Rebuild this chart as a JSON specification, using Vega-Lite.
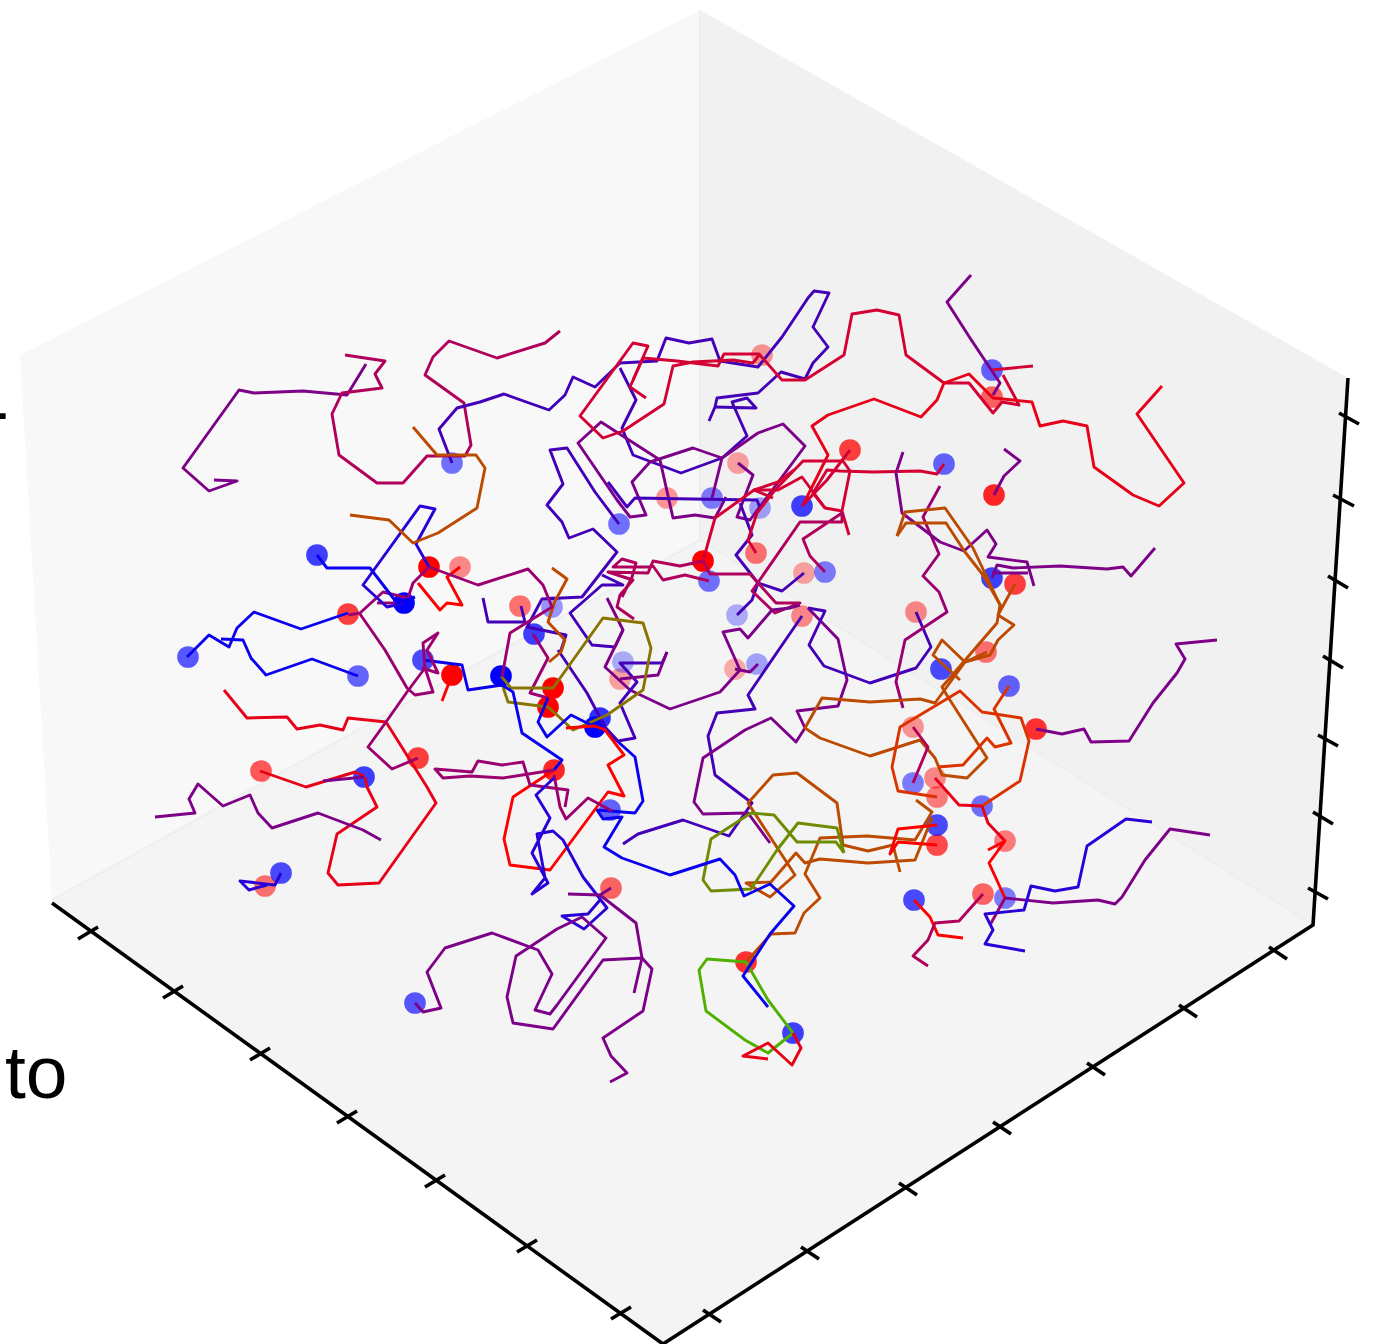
{"$schema":"https://vega.github.io/schema/vega-lite/v6.json","width":1378,"height":1344,"padding":0,"autosize":"none","background":"white","config":{"view":{"stroke":null}},
"datasets":{
"panes":[{"pane":"left","x":20,"y":355,"y2":355},{"pane":"left","x":52,"y":339,"y2":900},{"pane":"left","x":700,"y":10,"y2":540},
{"pane":"right","x":700,"y":10,"y2":540},{"pane":"right","x":1313,"y":358,"y2":925},{"pane":"right","x":1348,"y":378,"y2":378},
{"pane":"floor","x":52,"y":900,"y2":900},{"pane":"floor","x":663,"y":561,"y2":1344},{"pane":"floor","x":700,"y":540,"y2":1320},{"pane":"floor","x":1313,"y":925,"y2":925}],
"seams":[{"id":"s1","x":700,"y":10},{"id":"s1","x":700,"y":540},{"id":"s2","x":52,"y":900},{"id":"s2","x":700,"y":540},{"id":"s3","x":700,"y":540},{"id":"s3","x":1313,"y":925}],
"frame":[{"id":"a1","x":52,"y":903},{"id":"a1","x":663,"y":1344},{"id":"a1","x":1313,"y":925},{"id":"a1","x":1348,"y":378},
{"id":"l1","x":78,"y":939},{"id":"l1","x":98,"y":927},{"id":"l2","x":163,"y":998},{"id":"l2","x":183,"y":986},{"id":"l3","x":250,"y":1060},{"id":"l3","x":270,"y":1048},{"id":"l4","x":337,"y":1123},{"id":"l4","x":357,"y":1111},{"id":"l5","x":425,"y":1187},{"id":"l5","x":445,"y":1175},{"id":"l6","x":517,"y":1252},{"id":"l6","x":537,"y":1240},{"id":"l7","x":611,"y":1319},{"id":"l7","x":631,"y":1307},
{"id":"b1","x":703,"y":1310},{"id":"b1","x":721,"y":1322},{"id":"b2","x":801,"y":1247},{"id":"b2","x":819,"y":1259},{"id":"b3","x":899,"y":1183},{"id":"b3","x":917,"y":1195},{"id":"b4","x":993,"y":1122},{"id":"b4","x":1011,"y":1134},{"id":"b5","x":1087,"y":1063},{"id":"b5","x":1105,"y":1075},{"id":"b6","x":1179,"y":1005},{"id":"b6","x":1197,"y":1017},{"id":"b7","x":1269,"y":947},{"id":"b7","x":1287,"y":959},
{"id":"r1","x":1339,"y":413},{"id":"r1","x":1359,"y":424},{"id":"r2","x":1333,"y":495},{"id":"r2","x":1354,"y":506},{"id":"r3","x":1328,"y":576},{"id":"r3","x":1348,"y":588},{"id":"r4","x":1323,"y":656},{"id":"r4","x":1343,"y":668},{"id":"r5","x":1318,"y":735},{"id":"r5","x":1338,"y":746},{"id":"r6","x":1313,"y":812},{"id":"r6","x":1333,"y":824},{"id":"r7","x":1308,"y":888},{"id":"r7","x":1328,"y":899}],
"markers":[
{"side":"red","fade":1,"x":429,"y":567},{"side":"red","fade":0.45,"x":460,"y":567},{"side":"red","fade":0.75,"x":348,"y":614},{"side":"red","fade":1,"x":452,"y":675},{"side":"red","fade":0.75,"x":418,"y":758},{"side":"red","fade":0.65,"x":261,"y":771},{"side":"red","fade":0.55,"x":265,"y":886},{"side":"red","fade":0.55,"x":520,"y":606},{"side":"red","fade":1,"x":553,"y":688},{"side":"red","fade":1,"x":548,"y":707},{"side":"red","fade":0.85,"x":554,"y":770},{"side":"red","fade":0.6,"x":611,"y":888},{"side":"red","fade":1,"x":703,"y":561},{"side":"red","fade":0.4,"x":667,"y":498},{"side":"red","fade":0.35,"x":738,"y":463},{"side":"red","fade":0.4,"x":762,"y":355},{"side":"red","fade":0.75,"x":850,"y":450},{"side":"red","fade":0.55,"x":756,"y":553},{"side":"red","fade":0.35,"x":804,"y":573},{"side":"red","fade":0.45,"x":802,"y":616},{"side":"red","fade":0.3,"x":735,"y":669},{"side":"red","fade":0.35,"x":620,"y":679},{"side":"red","fade":0.45,"x":916,"y":612},{"side":"red","fade":0.6,"x":992,"y":397},{"side":"red","fade":0.85,"x":994,"y":495},{"side":"red","fade":0.75,"x":1015,"y":584},{"side":"red","fade":0.55,"x":986,"y":652},{"side":"red","fade":0.8,"x":1036,"y":729},{"side":"red","fade":0.4,"x":913,"y":727},{"side":"red","fade":0.45,"x":935,"y":778},{"side":"red","fade":0.5,"x":937,"y":797},{"side":"red","fade":0.7,"x":937,"y":845},{"side":"red","fade":0.5,"x":1005,"y":841},{"side":"red","fade":0.6,"x":983,"y":894},{"side":"red","fade":0.8,"x":746,"y":962},
{"side":"blue","fade":0.55,"x":452,"y":463},{"side":"blue","fade":0.75,"x":317,"y":555},{"side":"blue","fade":1,"x":404,"y":603},{"side":"blue","fade":0.65,"x":188,"y":657},{"side":"blue","fade":0.6,"x":358,"y":676},{"side":"blue","fade":0.7,"x":423,"y":660},{"side":"blue","fade":0.75,"x":534,"y":634},{"side":"blue","fade":0.4,"x":552,"y":607},{"side":"blue","fade":1,"x":501,"y":676},{"side":"blue","fade":0.8,"x":600,"y":718},{"side":"blue","fade":1,"x":595,"y":727},{"side":"blue","fade":0.75,"x":364,"y":777},{"side":"blue","fade":0.7,"x":281,"y":873},{"side":"blue","fade":0.6,"x":610,"y":810},{"side":"blue","fade":0.65,"x":415,"y":1003},{"side":"blue","fade":0.55,"x":619,"y":524},{"side":"blue","fade":0.5,"x":712,"y":498},{"side":"blue","fade":0.35,"x":760,"y":508},{"side":"blue","fade":0.75,"x":802,"y":506},{"side":"blue","fade":0.55,"x":709,"y":581},{"side":"blue","fade":0.3,"x":737,"y":615},{"side":"blue","fade":0.5,"x":825,"y":572},{"side":"blue","fade":0.35,"x":757,"y":664},{"side":"blue","fade":0.3,"x":623,"y":662},{"side":"blue","fade":0.6,"x":992,"y":370},{"side":"blue","fade":0.6,"x":944,"y":464},{"side":"blue","fade":0.75,"x":992,"y":578},{"side":"blue","fade":0.7,"x":941,"y":669},{"side":"blue","fade":0.6,"x":1009,"y":686},{"side":"blue","fade":0.5,"x":913,"y":783},{"side":"blue","fade":0.55,"x":982,"y":806},{"side":"blue","fade":0.7,"x":937,"y":825},{"side":"blue","fade":0.7,"x":914,"y":900},{"side":"blue","fade":0.5,"x":1005,"y":898},{"side":"blue","fade":0.75,"x":793,"y":1033}],
"words":[{"word":"to","x":5,"y":1098},{"word":"-","x":-16,"y":436}],
"paths":[
{"id":"1","hue":"purple","x":366,"y":364},{"id":"1","hue":"purple","x":347,"y":395},{"id":"1","hue":"purple","x":303,"y":391},{"id":"1","hue":"purple","x":254,"y":393},{"id":"1","hue":"purple","x":239,"y":390},{"id":"1","hue":"purple","x":183,"y":468},{"id":"1","hue":"purple","x":209,"y":491},{"id":"1","hue":"purple","x":237,"y":481},{"id":"1","hue":"purple","x":214,"y":480},
{"id":"2","hue":"rose","x":345,"y":355},{"id":"2","hue":"rose","x":385,"y":361},{"id":"2","hue":"rose","x":375,"y":374},{"id":"2","hue":"rose","x":382,"y":388},{"id":"2","hue":"rose","x":342,"y":393},{"id":"2","hue":"rose","x":332,"y":414},{"id":"2","hue":"rose","x":339,"y":455},{"id":"2","hue":"rose","x":377,"y":483},{"id":"2","hue":"rose","x":403,"y":483},{"id":"2","hue":"rose","x":427,"y":456},{"id":"2","hue":"rose","x":465,"y":456},{"id":"2","hue":"rose","x":471,"y":445},{"id":"2","hue":"rose","x":464,"y":403},{"id":"2","hue":"rose","x":425,"y":375},{"id":"2","hue":"rose","x":433,"y":357},{"id":"2","hue":"rose","x":449,"y":341},{"id":"2","hue":"rose","x":497,"y":358},{"id":"2","hue":"rose","x":545,"y":343},{"id":"2","hue":"rose","x":560,"y":331},
{"id":"3","hue":"indigo","x":452,"y":463},{"id":"3","hue":"indigo","x":439,"y":429},{"id":"3","hue":"indigo","x":457,"y":408},{"id":"3","hue":"indigo","x":480,"y":402},{"id":"3","hue":"indigo","x":504,"y":394},{"id":"3","hue":"indigo","x":549,"y":410},{"id":"3","hue":"indigo","x":565,"y":395},{"id":"3","hue":"indigo","x":573,"y":377},{"id":"3","hue":"indigo","x":595,"y":387},{"id":"3","hue":"indigo","x":620,"y":363},{"id":"3","hue":"indigo","x":657,"y":361},{"id":"3","hue":"indigo","x":666,"y":338},{"id":"3","hue":"indigo","x":689,"y":343},{"id":"3","hue":"indigo","x":712,"y":339},{"id":"3","hue":"indigo","x":720,"y":361},{"id":"3","hue":"indigo","x":758,"y":367},{"id":"3","hue":"indigo","x":782,"y":337},{"id":"3","hue":"indigo","x":808,"y":298},{"id":"3","hue":"indigo","x":814,"y":291},{"id":"3","hue":"indigo","x":829,"y":293},{"id":"3","hue":"indigo","x":813,"y":327},{"id":"3","hue":"indigo","x":828,"y":347},{"id":"3","hue":"indigo","x":813,"y":363},{"id":"3","hue":"indigo","x":805,"y":379},{"id":"3","hue":"indigo","x":781,"y":372},{"id":"3","hue":"indigo","x":758,"y":393},{"id":"3","hue":"indigo","x":717,"y":398},{"id":"3","hue":"indigo","x":715,"y":407},{"id":"3","hue":"indigo","x":709,"y":421},
{"id":"5","hue":"indigo","x":715,"y":407},{"id":"5","hue":"indigo","x":756,"y":408},{"id":"5","hue":"indigo","x":747,"y":398},{"id":"5","hue":"indigo","x":732,"y":402},{"id":"5","hue":"indigo","x":747,"y":436},{"id":"5","hue":"indigo","x":722,"y":458},{"id":"5","hue":"indigo","x":681,"y":473},{"id":"5","hue":"indigo","x":633,"y":455},{"id":"5","hue":"indigo","x":622,"y":428},{"id":"5","hue":"indigo","x":636,"y":400},{"id":"5","hue":"indigo","x":620,"y":368},
{"id":"4","hue":"indigo","x":619,"y":524},{"id":"4","hue":"indigo","x":595,"y":492},{"id":"4","hue":"indigo","x":567,"y":448},{"id":"4","hue":"indigo","x":550,"y":450},{"id":"4","hue":"indigo","x":563,"y":484},{"id":"4","hue":"indigo","x":547,"y":505},{"id":"4","hue":"indigo","x":562,"y":522},{"id":"4","hue":"indigo","x":569,"y":538},{"id":"4","hue":"indigo","x":593,"y":529},{"id":"4","hue":"indigo","x":617,"y":552},{"id":"4","hue":"indigo","x":582,"y":597},{"id":"4","hue":"indigo","x":542,"y":599},{"id":"4","hue":"indigo","x":535,"y":612},{"id":"4","hue":"indigo","x":527,"y":627},{"id":"4","hue":"indigo","x":566,"y":635},{"id":"4","hue":"indigo","x":561,"y":650},
{"id":"4b","hue":"indigo","x":602,"y":575},{"id":"4b","hue":"indigo","x":623,"y":585},{"id":"4b","hue":"indigo","x":602,"y":585},{"id":"4b","hue":"indigo","x":585,"y":600},{"id":"4b","hue":"indigo","x":570,"y":613},{"id":"4b","hue":"indigo","x":592,"y":645},{"id":"4b","hue":"indigo","x":615,"y":647},{"id":"4b","hue":"indigo","x":623,"y":630},
{"id":"6","hue":"purple","x":712,"y":498},{"id":"6","hue":"purple","x":722,"y":458},{"id":"6","hue":"purple","x":693,"y":448},{"id":"6","hue":"purple","x":650,"y":462},{"id":"6","hue":"purple","x":632,"y":482},{"id":"6","hue":"purple","x":646,"y":515},{"id":"6","hue":"purple","x":630,"y":517},{"id":"6","hue":"purple","x":617,"y":500},{"id":"6","hue":"purple","x":578,"y":443},{"id":"6","hue":"purple","x":601,"y":422},{"id":"6","hue":"purple","x":660,"y":460},{"id":"6","hue":"purple","x":673,"y":518},{"id":"6","hue":"purple","x":695,"y":515},{"id":"6","hue":"purple","x":715,"y":518},{"id":"6","hue":"purple","x":726,"y":497},
{"id":"6b","hue":"purple","x":738,"y":463},{"id":"6b","hue":"purple","x":753,"y":475},{"id":"6b","hue":"purple","x":737,"y":517},{"id":"6b","hue":"purple","x":750,"y":520},{"id":"6b","hue":"purple","x":805,"y":446},{"id":"6b","hue":"purple","x":783,"y":424},{"id":"6b","hue":"purple","x":758,"y":433},{"id":"6b","hue":"purple","x":722,"y":458},
{"id":"7","hue":"indigo","x":760,"y":508},{"id":"7","hue":"indigo","x":757,"y":500},{"id":"7","hue":"indigo","x":693,"y":499},{"id":"7","hue":"indigo","x":635,"y":498},{"id":"7","hue":"indigo","x":627,"y":507},{"id":"7","hue":"indigo","x":608,"y":482},
{"id":"8a","hue":"indigo","x":740,"y":503},{"id":"8a","hue":"indigo","x":752,"y":535},{"id":"8a","hue":"indigo","x":736,"y":555},{"id":"8a","hue":"indigo","x":758,"y":583},{"id":"8a","hue":"indigo","x":782,"y":591},{"id":"8a","hue":"indigo","x":804,"y":573},
{"id":"8b","hue":"indigo","x":737,"y":615},{"id":"8b","hue":"indigo","x":752,"y":600},{"id":"8b","hue":"indigo","x":758,"y":583},
{"id":"A","hue":"crimson","x":646,"y":398},{"id":"A","hue":"crimson","x":630,"y":387},{"id":"A","hue":"crimson","x":643,"y":358},{"id":"A","hue":"crimson","x":677,"y":361},{"id":"A","hue":"crimson","x":718,"y":366},{"id":"A","hue":"crimson","x":724,"y":354},{"id":"A","hue":"crimson","x":759,"y":354},{"id":"A","hue":"crimson","x":782,"y":380},{"id":"A","hue":"crimson","x":805,"y":380},{"id":"A","hue":"crimson","x":844,"y":355},{"id":"A","hue":"crimson","x":852,"y":314},{"id":"A","hue":"crimson","x":877,"y":310},{"id":"A","hue":"crimson","x":899,"y":315},{"id":"A","hue":"crimson","x":906,"y":355},{"id":"A","hue":"crimson","x":944,"y":383},{"id":"A","hue":"crimson","x":969,"y":383},{"id":"A","hue":"crimson","x":993,"y":413},{"id":"A","hue":"crimson","x":1002,"y":402},{"id":"A","hue":"crimson","x":1019,"y":405},{"id":"A","hue":"crimson","x":1003,"y":375},
{"id":"A2","hue":"crimson","x":992,"y":370},{"id":"A2","hue":"crimson","x":1033,"y":366},
{"id":"B","hue":"crimson","x":633,"y":380},{"id":"B","hue":"crimson","x":648,"y":346},{"id":"B","hue":"crimson","x":633,"y":343},{"id":"B","hue":"crimson","x":580,"y":416},{"id":"B","hue":"crimson","x":603,"y":438},{"id":"B","hue":"crimson","x":623,"y":431},{"id":"B","hue":"crimson","x":664,"y":404},{"id":"B","hue":"crimson","x":673,"y":366},{"id":"B","hue":"crimson","x":693,"y":362},{"id":"B","hue":"crimson","x":733,"y":360},{"id":"B","hue":"crimson","x":753,"y":363},{"id":"B","hue":"crimson","x":760,"y":354},
{"id":"R1","hue":"scarlet","x":1162,"y":386},{"id":"R1","hue":"scarlet","x":1137,"y":414},{"id":"R1","hue":"scarlet","x":1184,"y":483},{"id":"R1","hue":"scarlet","x":1159,"y":506},{"id":"R1","hue":"scarlet","x":1133,"y":495},{"id":"R1","hue":"scarlet","x":1094,"y":467},{"id":"R1","hue":"scarlet","x":1087,"y":426},{"id":"R1","hue":"scarlet","x":1063,"y":421},{"id":"R1","hue":"scarlet","x":1040,"y":426},{"id":"R1","hue":"scarlet","x":1032,"y":402},{"id":"R1","hue":"scarlet","x":993,"y":398},{"id":"R1","hue":"scarlet","x":969,"y":374},{"id":"R1","hue":"scarlet","x":944,"y":383},{"id":"R1","hue":"scarlet","x":937,"y":400},{"id":"R1","hue":"scarlet","x":921,"y":417},{"id":"R1","hue":"scarlet","x":874,"y":399},{"id":"R1","hue":"scarlet","x":828,"y":415},{"id":"R1","hue":"scarlet","x":812,"y":426},{"id":"R1","hue":"scarlet","x":828,"y":455},{"id":"R1","hue":"scarlet","x":803,"y":505},
{"id":"P1","hue":"purple","x":971,"y":275},{"id":"P1","hue":"purple","x":947,"y":302},{"id":"P1","hue":"purple","x":970,"y":338},{"id":"P1","hue":"purple","x":1000,"y":383},{"id":"P1","hue":"purple","x":993,"y":395},
{"id":"C1","hue":"crimson","x":850,"y":450},{"id":"C1","hue":"crimson","x":827,"y":480},{"id":"C1","hue":"crimson","x":802,"y":506},
{"id":"C2","hue":"crimson","x":756,"y":553},{"id":"C2","hue":"crimson","x":748,"y":540},{"id":"C2","hue":"crimson","x":757,"y":513},{"id":"C2","hue":"crimson","x":775,"y":490},{"id":"C2","hue":"crimson","x":803,"y":461},{"id":"C2","hue":"crimson","x":843,"y":461},{"id":"C2","hue":"crimson","x":850,"y":471},{"id":"C2","hue":"crimson","x":842,"y":511},{"id":"C2","hue":"crimson","x":849,"y":535},
{"id":"C3","hue":"crimson","x":944,"y":464},{"id":"C3","hue":"crimson","x":937,"y":474},{"id":"C3","hue":"crimson","x":920,"y":471},{"id":"C3","hue":"crimson","x":873,"y":472},{"id":"C3","hue":"crimson","x":840,"y":471},{"id":"C3","hue":"crimson","x":827,"y":470},{"id":"C3","hue":"crimson","x":813,"y":493},{"id":"C3","hue":"crimson","x":825,"y":508},{"id":"C3","hue":"crimson","x":842,"y":511},
{"id":"C4","hue":"crimson","x":703,"y":561},{"id":"C4","hue":"crimson","x":715,"y":518},{"id":"C4","hue":"crimson","x":754,"y":490},{"id":"C4","hue":"crimson","x":778,"y":490},{"id":"C4","hue":"crimson","x":802,"y":477},{"id":"C4","hue":"crimson","x":825,"y":508},
{"id":"C4b","hue":"crimson","x":754,"y":490},{"id":"C4b","hue":"crimson","x":778,"y":482},{"id":"C4b","hue":"crimson","x":794,"y":470},
{"id":"C4c","hue":"crimson","x":754,"y":490},{"id":"C4c","hue":"crimson","x":773,"y":498},
{"id":"C5","hue":"rose","x":825,"y":572},{"id":"C5","hue":"rose","x":810,"y":556},{"id":"C5","hue":"rose","x":803,"y":539},{"id":"C5","hue":"rose","x":842,"y":513},{"id":"C5","hue":"rose","x":842,"y":522},{"id":"C5","hue":"rose","x":800,"y":522},{"id":"C5","hue":"rose","x":752,"y":591},{"id":"C5","hue":"rose","x":775,"y":613},{"id":"C5","hue":"rose","x":800,"y":603},{"id":"C5","hue":"rose","x":776,"y":603},{"id":"C5","hue":"rose","x":750,"y":574},{"id":"C5","hue":"rose","x":710,"y":574},{"id":"C5","hue":"rose","x":703,"y":561},
{"id":"D1","hue":"rose","x":709,"y":581},{"id":"D1","hue":"rose","x":685,"y":575},{"id":"D1","hue":"rose","x":663,"y":580},{"id":"D1","hue":"rose","x":653,"y":566},{"id":"D1","hue":"rose","x":650,"y":567},{"id":"D1","hue":"rose","x":613,"y":567},{"id":"D1","hue":"rose","x":622,"y":559},{"id":"D1","hue":"rose","x":636,"y":563},{"id":"D1","hue":"rose","x":632,"y":577},{"id":"D1","hue":"rose","x":622,"y":597},
{"id":"D2","hue":"rose","x":703,"y":561},{"id":"D2","hue":"rose","x":680,"y":566},{"id":"D2","hue":"rose","x":653,"y":561},{"id":"D2","hue":"rose","x":648,"y":573},{"id":"D2","hue":"rose","x":608,"y":572},{"id":"D2","hue":"rose","x":633,"y":580},{"id":"D2","hue":"rose","x":620,"y":595},{"id":"D2","hue":"rose","x":617,"y":607},{"id":"D2","hue":"rose","x":634,"y":619},
{"id":"E","hue":"purple","x":607,"y":598},{"id":"E","hue":"purple","x":623,"y":630},{"id":"E","hue":"purple","x":605,"y":667},{"id":"E","hue":"purple","x":630,"y":690},{"id":"E","hue":"purple","x":670,"y":709},{"id":"E","hue":"purple","x":720,"y":692},{"id":"E","hue":"purple","x":740,"y":670},{"id":"E","hue":"purple","x":723,"y":632},{"id":"E","hue":"purple","x":740,"y":629},{"id":"E","hue":"purple","x":748,"y":638},{"id":"E","hue":"purple","x":772,"y":610},{"id":"E","hue":"purple","x":790,"y":608},{"id":"E","hue":"purple","x":800,"y":605},
{"id":"E2","hue":"purple","x":735,"y":669},{"id":"E2","hue":"purple","x":750,"y":672},{"id":"E2","hue":"purple","x":758,"y":664},
{"id":"F","hue":"indigo","x":802,"y":616},{"id":"F","hue":"indigo","x":780,"y":648},{"id":"F","hue":"indigo","x":748,"y":695},{"id":"F","hue":"indigo","x":755,"y":709},{"id":"F","hue":"indigo","x":717,"y":713},{"id":"F","hue":"indigo","x":708,"y":736},{"id":"F","hue":"indigo","x":715,"y":775},{"id":"F","hue":"indigo","x":752,"y":803},{"id":"F","hue":"indigo","x":729,"y":836},{"id":"F","hue":"indigo","x":683,"y":820},{"id":"F","hue":"indigo","x":638,"y":834},{"id":"F","hue":"indigo","x":623,"y":844},
{"id":"G0","hue":"purple","x":808,"y":608},{"id":"G0","hue":"purple","x":838,"y":639},{"id":"G0","hue":"purple","x":847,"y":680},{"id":"G0","hue":"purple","x":838,"y":706},{"id":"G0","hue":"purple","x":797,"y":711},{"id":"G0","hue":"purple","x":805,"y":728},{"id":"G0","hue":"purple","x":796,"y":742},{"id":"G0","hue":"purple","x":771,"y":718},{"id":"G0","hue":"purple","x":745,"y":730},{"id":"G0","hue":"purple","x":703,"y":758},{"id":"G0","hue":"purple","x":694,"y":802},{"id":"G0","hue":"purple","x":703,"y":814},{"id":"G0","hue":"purple","x":748,"y":813},{"id":"G0","hue":"purple","x":770,"y":843},
{"id":"G","hue":"indigo","x":808,"y":608},{"id":"G","hue":"indigo","x":825,"y":611},{"id":"G","hue":"indigo","x":809,"y":645},{"id":"G","hue":"indigo","x":824,"y":666},{"id":"G","hue":"indigo","x":870,"y":683},{"id":"G","hue":"indigo","x":916,"y":668},{"id":"G","hue":"indigo","x":931,"y":647},{"id":"G","hue":"indigo","x":916,"y":612},
{"id":"H","hue":"plum","x":940,"y":486},{"id":"H","hue":"plum","x":923,"y":517},{"id":"H","hue":"plum","x":939,"y":554},{"id":"H","hue":"plum","x":923,"y":576},{"id":"H","hue":"plum","x":939,"y":592},{"id":"H","hue":"plum","x":947,"y":612},{"id":"H","hue":"plum","x":905,"y":640},{"id":"H","hue":"plum","x":896,"y":682},{"id":"H","hue":"plum","x":903,"y":708},
{"id":"I","hue":"purple","x":903,"y":452},{"id":"I","hue":"purple","x":896,"y":473},{"id":"I","hue":"purple","x":902,"y":513},{"id":"I","hue":"purple","x":940,"y":542},{"id":"I","hue":"purple","x":964,"y":551},{"id":"I","hue":"purple","x":987,"y":530},{"id":"I","hue":"purple","x":996,"y":544},{"id":"I","hue":"purple","x":988,"y":557},{"id":"I","hue":"purple","x":1027,"y":562},{"id":"I","hue":"purple","x":1034,"y":586},
{"id":"J","hue":"purple","x":1155,"y":548},{"id":"J","hue":"purple","x":1131,"y":576},{"id":"J","hue":"purple","x":1123,"y":567},{"id":"J","hue":"purple","x":1107,"y":569},{"id":"J","hue":"purple","x":1060,"y":566},{"id":"J","hue":"purple","x":1013,"y":568},{"id":"J","hue":"purple","x":997,"y":565},{"id":"J","hue":"purple","x":992,"y":578},
{"id":"J2","hue":"purple","x":992,"y":573},{"id":"J2","hue":"purple","x":1028,"y":573},
{"id":"J3","hue":"purple","x":994,"y":495},{"id":"J3","hue":"purple","x":1004,"y":476},{"id":"J3","hue":"purple","x":1020,"y":461},{"id":"J3","hue":"purple","x":1004,"y":449},
{"id":"K1","hue":"brown","x":897,"y":536},{"id":"K1","hue":"brown","x":905,"y":512},{"id":"K1","hue":"brown","x":945,"y":508},{"id":"K1","hue":"brown","x":973,"y":548},{"id":"K1","hue":"brown","x":1000,"y":605},{"id":"K1","hue":"brown","x":997,"y":623},{"id":"K1","hue":"brown","x":942,"y":687},{"id":"K1","hue":"brown","x":948,"y":697},{"id":"K1","hue":"brown","x":987,"y":758},{"id":"K1","hue":"brown","x":967,"y":778},{"id":"K1","hue":"brown","x":942,"y":775},{"id":"K1","hue":"brown","x":935,"y":758},{"id":"K1","hue":"brown","x":920,"y":740},{"id":"K1","hue":"brown","x":870,"y":756},{"id":"K1","hue":"brown","x":820,"y":738},{"id":"K1","hue":"brown","x":805,"y":728},{"id":"K1","hue":"brown","x":822,"y":698},{"id":"K1","hue":"brown","x":870,"y":702},{"id":"K1","hue":"brown","x":920,"y":699},{"id":"K1","hue":"brown","x":935,"y":703},{"id":"K1","hue":"brown","x":965,"y":662},{"id":"K1","hue":"brown","x":987,"y":652},
{"id":"K2","hue":"brown","x":897,"y":536},{"id":"K2","hue":"brown","x":906,"y":523},{"id":"K2","hue":"brown","x":946,"y":523},{"id":"K2","hue":"brown","x":965,"y":552},{"id":"K2","hue":"brown","x":983,"y":575},{"id":"K2","hue":"brown","x":1002,"y":608},
{"id":"K3","hue":"brown","x":1015,"y":584},{"id":"K3","hue":"brown","x":998,"y":615},{"id":"K3","hue":"brown","x":1014,"y":625},{"id":"K3","hue":"brown","x":998,"y":640},{"id":"K3","hue":"brown","x":990,"y":655},{"id":"K3","hue":"brown","x":965,"y":662},{"id":"K3","hue":"brown","x":942,"y":640},{"id":"K3","hue":"brown","x":933,"y":655},{"id":"K3","hue":"brown","x":960,"y":680},
{"id":"L","hue":"flame","x":1009,"y":686},{"id":"L","hue":"flame","x":994,"y":709},{"id":"L","hue":"flame","x":1011,"y":743},{"id":"L","hue":"flame","x":995,"y":747},{"id":"L","hue":"flame","x":987,"y":738},{"id":"L","hue":"flame","x":963,"y":765},{"id":"L","hue":"flame","x":938,"y":767},
{"id":"M","hue":"flame","x":937,"y":797},{"id":"M","hue":"flame","x":898,"y":791},{"id":"M","hue":"flame","x":892,"y":767},{"id":"M","hue":"flame","x":900,"y":727},{"id":"M","hue":"flame","x":960,"y":691},{"id":"M","hue":"flame","x":982,"y":712},{"id":"M","hue":"flame","x":1021,"y":718},{"id":"M","hue":"flame","x":1029,"y":741},{"id":"M","hue":"flame","x":1020,"y":781},{"id":"M","hue":"flame","x":982,"y":806},
{"id":"N","hue":"scarlet","x":935,"y":778},{"id":"N","hue":"scarlet","x":959,"y":805},{"id":"N","hue":"scarlet","x":982,"y":806},
{"id":"N2","hue":"scarlet","x":1005,"y":841},{"id":"N2","hue":"scarlet","x":988,"y":823},{"id":"N2","hue":"scarlet","x":982,"y":806},
{"id":"O","hue":"red","x":988,"y":850},{"id":"O","hue":"red","x":1005,"y":841},{"id":"O","hue":"red","x":989,"y":863},{"id":"O","hue":"red","x":1005,"y":898},
{"id":"Q1","hue":"purple","x":1036,"y":729},{"id":"Q1","hue":"purple","x":1062,"y":734},{"id":"Q1","hue":"purple","x":1084,"y":729},{"id":"Q1","hue":"purple","x":1091,"y":742},{"id":"Q1","hue":"purple","x":1129,"y":741},{"id":"Q1","hue":"purple","x":1153,"y":703},{"id":"Q1","hue":"purple","x":1177,"y":673},{"id":"Q1","hue":"purple","x":1185,"y":659},{"id":"Q1","hue":"purple","x":1176,"y":644},{"id":"Q1","hue":"purple","x":1217,"y":640},
{"id":"Q2","hue":"purple","x":1005,"y":898},{"id":"Q2","hue":"purple","x":1053,"y":903},{"id":"Q2","hue":"purple","x":1098,"y":900},{"id":"Q2","hue":"purple","x":1115,"y":904},{"id":"Q2","hue":"purple","x":1122,"y":897},{"id":"Q2","hue":"purple","x":1145,"y":860},{"id":"Q2","hue":"purple","x":1170,"y":829},{"id":"Q2","hue":"purple","x":1210,"y":835},
{"id":"Q3","hue":"plum","x":1005,"y":898},{"id":"Q3","hue":"plum","x":990,"y":925},
{"id":"Q4","hue":"rose","x":913,"y":727},{"id":"Q4","hue":"rose","x":928,"y":747},{"id":"Q4","hue":"rose","x":913,"y":783},
{"id":"S1","hue":"royal","x":1152,"y":822},{"id":"S1","hue":"royal","x":1126,"y":819},{"id":"S1","hue":"royal","x":1087,"y":846},{"id":"S1","hue":"royal","x":1078,"y":887},{"id":"S1","hue":"royal","x":1055,"y":891},{"id":"S1","hue":"royal","x":1031,"y":886},{"id":"S1","hue":"royal","x":1024,"y":910},{"id":"S1","hue":"royal","x":985,"y":914},{"id":"S1","hue":"royal","x":993,"y":930},{"id":"S1","hue":"royal","x":985,"y":944},{"id":"S1","hue":"royal","x":1025,"y":951},
{"id":"S2","hue":"red","x":914,"y":900},{"id":"S2","hue":"red","x":930,"y":917},{"id":"S2","hue":"red","x":938,"y":935},{"id":"S2","hue":"red","x":963,"y":938},
{"id":"S3","hue":"rose","x":983,"y":894},{"id":"S3","hue":"rose","x":959,"y":921},{"id":"S3","hue":"rose","x":935,"y":923},{"id":"S3","hue":"rose","x":928,"y":940},{"id":"S3","hue":"rose","x":913,"y":956},{"id":"S3","hue":"rose","x":928,"y":966},
{"id":"T1","hue":"brown","x":932,"y":818},{"id":"T1","hue":"brown","x":915,"y":860},{"id":"T1","hue":"brown","x":868,"y":863},{"id":"T1","hue":"brown","x":820,"y":859},{"id":"T1","hue":"brown","x":805,"y":863},{"id":"T1","hue":"brown","x":796,"y":853},{"id":"T1","hue":"brown","x":771,"y":882},{"id":"T1","hue":"brown","x":746,"y":883},{"id":"T1","hue":"brown","x":770,"y":897},{"id":"T1","hue":"brown","x":795,"y":875},{"id":"T1","hue":"brown","x":748,"y":803},{"id":"T1","hue":"brown","x":773,"y":775},{"id":"T1","hue":"brown","x":797,"y":773},{"id":"T1","hue":"brown","x":837,"y":803},{"id":"T1","hue":"brown","x":843,"y":845},{"id":"T1","hue":"brown","x":868,"y":851},{"id":"T1","hue":"brown","x":893,"y":845},{"id":"T1","hue":"brown","x":900,"y":872},
{"id":"T2","hue":"brown","x":746,"y":962},{"id":"T2","hue":"brown","x":771,"y":934},{"id":"T2","hue":"brown","x":795,"y":933},{"id":"T2","hue":"brown","x":804,"y":913},{"id":"T2","hue":"brown","x":820,"y":898},{"id":"T2","hue":"brown","x":805,"y":874},{"id":"T2","hue":"brown","x":820,"y":838},{"id":"T2","hue":"brown","x":867,"y":836},{"id":"T2","hue":"brown","x":915,"y":840},{"id":"T2","hue":"brown","x":932,"y":812},{"id":"T2","hue":"brown","x":916,"y":800},
{"id":"T3","hue":"red","x":937,"y":845},{"id":"T3","hue":"red","x":898,"y":842},{"id":"T3","hue":"red","x":890,"y":854},{"id":"T3","hue":"red","x":898,"y":829},{"id":"T3","hue":"red","x":937,"y":825},
{"id":"U1","hue":"moss","x":844,"y":853},{"id":"U1","hue":"moss","x":837,"y":828},{"id":"U1","hue":"moss","x":798,"y":823},{"id":"U1","hue":"moss","x":777,"y":850},{"id":"U1","hue":"moss","x":751,"y":889},{"id":"U1","hue":"moss","x":711,"y":891},{"id":"U1","hue":"moss","x":703,"y":880},{"id":"U1","hue":"moss","x":711,"y":839},{"id":"U1","hue":"moss","x":751,"y":813},{"id":"U1","hue":"moss","x":774,"y":815},{"id":"U1","hue":"moss","x":797,"y":842},{"id":"U1","hue":"moss","x":836,"y":842},{"id":"U1","hue":"moss","x":844,"y":853},
{"id":"U2","hue":"lime","x":793,"y":1033},{"id":"U2","hue":"lime","x":768,"y":1053},{"id":"U2","hue":"lime","x":745,"y":1040},{"id":"U2","hue":"lime","x":706,"y":1011},{"id":"U2","hue":"lime","x":699,"y":970},{"id":"U2","hue":"lime","x":707,"y":959},{"id":"U2","hue":"lime","x":746,"y":962},{"id":"U2","hue":"lime","x":768,"y":1000},{"id":"U2","hue":"lime","x":793,"y":1033},
{"id":"U3","hue":"scarlet","x":793,"y":1033},{"id":"U3","hue":"scarlet","x":801,"y":1048},{"id":"U3","hue":"scarlet","x":792,"y":1065},{"id":"U3","hue":"scarlet","x":768,"y":1043},{"id":"U3","hue":"scarlet","x":743,"y":1056},{"id":"U3","hue":"scarlet","x":768,"y":1059},
{"id":"V1","hue":"blue","x":768,"y":1007},{"id":"V1","hue":"blue","x":743,"y":976},{"id":"V1","hue":"blue","x":770,"y":934},{"id":"V1","hue":"blue","x":794,"y":906},{"id":"V1","hue":"blue","x":770,"y":884},{"id":"V1","hue":"blue","x":744,"y":896},{"id":"V1","hue":"blue","x":735,"y":875},{"id":"V1","hue":"blue","x":720,"y":859},{"id":"V1","hue":"blue","x":670,"y":875},{"id":"V1","hue":"blue","x":622,"y":858},{"id":"V1","hue":"blue","x":604,"y":847},{"id":"V1","hue":"blue","x":622,"y":817},{"id":"V1","hue":"blue","x":603,"y":819},{"id":"V1","hue":"blue","x":597,"y":810},{"id":"V1","hue":"blue","x":635,"y":813},{"id":"V1","hue":"blue","x":643,"y":801},{"id":"V1","hue":"blue","x":635,"y":757},{"id":"V1","hue":"blue","x":605,"y":730},
{"id":"V2","hue":"indigo","x":667,"y":652},{"id":"V2","hue":"indigo","x":662,"y":663},{"id":"V2","hue":"indigo","x":620,"y":663},{"id":"V2","hue":"indigo","x":637,"y":682},{"id":"V2","hue":"indigo","x":620,"y":703},{"id":"V2","hue":"indigo","x":635,"y":738},{"id":"V2","hue":"indigo","x":618,"y":741},{"id":"V2","hue":"indigo","x":605,"y":727},{"id":"V2","hue":"indigo","x":587,"y":693},{"id":"V2","hue":"indigo","x":558,"y":650},
{"id":"V3","hue":"purple","x":620,"y":679},{"id":"V3","hue":"purple","x":658,"y":675},{"id":"V3","hue":"purple","x":667,"y":652},
{"id":"V4","hue":"plum","x":533,"y":634},{"id":"V4","hue":"plum","x":548,"y":658},{"id":"V4","hue":"plum","x":530,"y":693},{"id":"V4","hue":"plum","x":548,"y":698},
{"id":"V5","hue":"indigo","x":521,"y":606},{"id":"V5","hue":"indigo","x":525,"y":622},{"id":"V5","hue":"indigo","x":488,"y":622},{"id":"V5","hue":"indigo","x":483,"y":598},
{"id":"W0","hue":"brown","x":552,"y":568},{"id":"W0","hue":"brown","x":567,"y":579},{"id":"W0","hue":"brown","x":560,"y":592},{"id":"W0","hue":"brown","x":555,"y":601},{"id":"W0","hue":"brown","x":548,"y":622},{"id":"W0","hue":"brown","x":565,"y":640},{"id":"W0","hue":"brown","x":561,"y":652},{"id":"W0","hue":"brown","x":549,"y":662},
{"id":"X1","hue":"olive","x":501,"y":676},{"id":"X1","hue":"olive","x":511,"y":688},{"id":"X1","hue":"olive","x":553,"y":688},{"id":"X1","hue":"olive","x":603,"y":618},{"id":"X1","hue":"olive","x":643,"y":623},{"id":"X1","hue":"olive","x":651,"y":648},{"id":"X1","hue":"olive","x":643,"y":690},{"id":"X1","hue":"olive","x":607,"y":715},{"id":"X1","hue":"olive","x":573,"y":730},{"id":"X1","hue":"olive","x":557,"y":715},{"id":"X1","hue":"olive","x":548,"y":707},{"id":"X1","hue":"olive","x":508,"y":702},{"id":"X1","hue":"olive","x":503,"y":687},
{"id":"X2","hue":"blue","x":423,"y":660},{"id":"X2","hue":"blue","x":462,"y":665},{"id":"X2","hue":"blue","x":468,"y":690},{"id":"X2","hue":"blue","x":502,"y":685},{"id":"X2","hue":"blue","x":513,"y":692},{"id":"X2","hue":"blue","x":522,"y":733},{"id":"X2","hue":"blue","x":562,"y":760},{"id":"X2","hue":"blue","x":554,"y":770},
{"id":"X3","hue":"blue","x":548,"y":698},{"id":"X3","hue":"blue","x":538,"y":722},{"id":"X3","hue":"blue","x":547,"y":737},{"id":"X3","hue":"blue","x":571,"y":715},{"id":"X3","hue":"blue","x":595,"y":727},
{"id":"X4","hue":"red","x":566,"y":728},{"id":"X4","hue":"red","x":595,"y":726},{"id":"X4","hue":"red","x":605,"y":730},{"id":"X4","hue":"red","x":624,"y":755},{"id":"X4","hue":"red","x":608,"y":765},{"id":"X4","hue":"red","x":624,"y":796},{"id":"X4","hue":"red","x":608,"y":792},{"id":"X4","hue":"red","x":550,"y":870},{"id":"X4","hue":"red","x":510,"y":865},{"id":"X4","hue":"red","x":504,"y":839},{"id":"X4","hue":"red","x":513,"y":797},{"id":"X4","hue":"red","x":554,"y":770},
{"id":"Y1","hue":"plum","x":554,"y":770},{"id":"Y1","hue":"plum","x":503,"y":778},{"id":"Y1","hue":"plum","x":470,"y":776},{"id":"Y1","hue":"plum","x":443,"y":778},{"id":"Y1","hue":"plum","x":435,"y":769},{"id":"Y1","hue":"plum","x":472,"y":772},{"id":"Y1","hue":"plum","x":478,"y":761},{"id":"Y1","hue":"plum","x":502,"y":765},{"id":"Y1","hue":"plum","x":523,"y":762},{"id":"Y1","hue":"plum","x":530,"y":785},{"id":"Y1","hue":"plum","x":568,"y":790},{"id":"Y1","hue":"plum","x":565,"y":807},
{"id":"Y2","hue":"plum","x":554,"y":775},{"id":"Y2","hue":"plum","x":560,"y":807},{"id":"Y2","hue":"plum","x":566,"y":819},{"id":"Y2","hue":"plum","x":588,"y":798},{"id":"Y2","hue":"plum","x":612,"y":811},
{"id":"Y3","hue":"royal","x":554,"y":778},{"id":"Y3","hue":"royal","x":536,"y":795},{"id":"Y3","hue":"royal","x":550,"y":818},{"id":"Y3","hue":"royal","x":532,"y":853},{"id":"Y3","hue":"royal","x":548,"y":883},{"id":"Y3","hue":"royal","x":532,"y":894},{"id":"Y3","hue":"royal","x":545,"y":878},{"id":"Y3","hue":"royal","x":537,"y":834},{"id":"Y3","hue":"royal","x":553,"y":831},{"id":"Y3","hue":"royal","x":563,"y":840},{"id":"Y3","hue":"royal","x":583,"y":877},{"id":"Y3","hue":"royal","x":607,"y":908},{"id":"Y3","hue":"royal","x":584,"y":929},{"id":"Y3","hue":"royal","x":562,"y":916},{"id":"Y3","hue":"royal","x":588,"y":914},{"id":"Y3","hue":"royal","x":600,"y":900},
{"id":"Z1","hue":"purple","x":568,"y":894},{"id":"Z1","hue":"purple","x":600,"y":895},{"id":"Z1","hue":"purple","x":636,"y":923},{"id":"Z1","hue":"purple","x":642,"y":958},{"id":"Z1","hue":"purple","x":652,"y":969},{"id":"Z1","hue":"purple","x":643,"y":1011},{"id":"Z1","hue":"purple","x":603,"y":1038},{"id":"Z1","hue":"purple","x":611,"y":1056},{"id":"Z1","hue":"purple","x":627,"y":1073},{"id":"Z1","hue":"purple","x":610,"y":1082},
{"id":"Z2","hue":"purple","x":634,"y":993},{"id":"Z2","hue":"purple","x":642,"y":958},{"id":"Z2","hue":"purple","x":603,"y":960},{"id":"Z2","hue":"purple","x":553,"y":1029},{"id":"Z2","hue":"purple","x":513,"y":1023},{"id":"Z2","hue":"purple","x":507,"y":997},{"id":"Z2","hue":"purple","x":516,"y":956},{"id":"Z2","hue":"purple","x":557,"y":929},{"id":"Z2","hue":"purple","x":582,"y":917},{"id":"Z2","hue":"purple","x":606,"y":938},{"id":"Z2","hue":"purple","x":557,"y":1005},{"id":"Z2","hue":"purple","x":550,"y":1014},{"id":"Z2","hue":"purple","x":535,"y":1010},{"id":"Z2","hue":"purple","x":552,"y":974},{"id":"Z2","hue":"purple","x":538,"y":950},{"id":"Z2","hue":"purple","x":492,"y":933},{"id":"Z2","hue":"purple","x":445,"y":948},{"id":"Z2","hue":"purple","x":427,"y":972},{"id":"Z2","hue":"purple","x":441,"y":1008},{"id":"Z2","hue":"purple","x":423,"y":1012},{"id":"Z2","hue":"purple","x":415,"y":1003},
{"id":"Z3","hue":"purple","x":611,"y":888},{"id":"Z3","hue":"purple","x":600,"y":895},
{"id":"a","hue":"blue","x":187,"y":657},{"id":"a","hue":"blue","x":209,"y":635},{"id":"a","hue":"blue","x":229,"y":647},{"id":"a","hue":"blue","x":237,"y":628},{"id":"a","hue":"blue","x":254,"y":612},{"id":"a","hue":"blue","x":301,"y":629},{"id":"a","hue":"blue","x":348,"y":613},
{"id":"b","hue":"blue","x":358,"y":676},{"id":"b","hue":"blue","x":312,"y":659},{"id":"b","hue":"blue","x":266,"y":675},{"id":"b","hue":"blue","x":251,"y":658},{"id":"b","hue":"blue","x":243,"y":640},{"id":"b","hue":"blue","x":221,"y":639},
{"id":"c","hue":"scarlet","x":224,"y":690},{"id":"c","hue":"scarlet","x":247,"y":718},{"id":"c","hue":"scarlet","x":287,"y":717},{"id":"c","hue":"scarlet","x":297,"y":729},{"id":"c","hue":"scarlet","x":320,"y":725},{"id":"c","hue":"scarlet","x":343,"y":730},{"id":"c","hue":"scarlet","x":348,"y":718},{"id":"c","hue":"scarlet","x":386,"y":722},{"id":"c","hue":"scarlet","x":427,"y":787},{"id":"c","hue":"scarlet","x":436,"y":803},{"id":"c","hue":"scarlet","x":379,"y":883},{"id":"c","hue":"scarlet","x":338,"y":885},{"id":"c","hue":"scarlet","x":328,"y":873},{"id":"c","hue":"scarlet","x":337,"y":834},{"id":"c","hue":"scarlet","x":377,"y":807},{"id":"c","hue":"scarlet","x":367,"y":787},{"id":"c","hue":"scarlet","x":365,"y":777},
{"id":"d","hue":"scarlet","x":260,"y":771},{"id":"d","hue":"scarlet","x":306,"y":787},{"id":"d","hue":"scarlet","x":355,"y":772},{"id":"d","hue":"scarlet","x":364,"y":776},
{"id":"e","hue":"purple","x":323,"y":781},{"id":"e","hue":"purple","x":364,"y":777},
{"id":"f","hue":"purple","x":155,"y":817},{"id":"f","hue":"purple","x":195,"y":813},{"id":"f","hue":"purple","x":189,"y":799},{"id":"f","hue":"purple","x":198,"y":784},{"id":"f","hue":"purple","x":223,"y":806},{"id":"f","hue":"purple","x":250,"y":795},{"id":"f","hue":"purple","x":258,"y":813},{"id":"f","hue":"purple","x":272,"y":828},{"id":"f","hue":"purple","x":318,"y":813},{"id":"f","hue":"purple","x":363,"y":830},{"id":"f","hue":"purple","x":381,"y":840},
{"id":"g","hue":"plum","x":418,"y":758},{"id":"g","hue":"plum","x":392,"y":769},{"id":"g","hue":"plum","x":368,"y":747},{"id":"g","hue":"plum","x":386,"y":722},{"id":"g","hue":"plum","x":407,"y":692},{"id":"g","hue":"plum","x":425,"y":668},{"id":"g","hue":"plum","x":433,"y":692},{"id":"g","hue":"plum","x":415,"y":695},{"id":"g","hue":"plum","x":407,"y":688},{"id":"g","hue":"plum","x":385,"y":650},{"id":"g","hue":"plum","x":360,"y":614},
{"id":"h","hue":"plum","x":425,"y":668},{"id":"h","hue":"plum","x":423,"y":643},{"id":"h","hue":"plum","x":438,"y":633},{"id":"h","hue":"plum","x":427,"y":650},{"id":"h","hue":"plum","x":438,"y":673},{"id":"h","hue":"plum","x":422,"y":668},
{"id":"i","hue":"red","x":452,"y":675},{"id":"i","hue":"red","x":442,"y":701},
{"id":"j","hue":"red","x":418,"y":583},{"id":"j","hue":"red","x":440,"y":610},{"id":"j","hue":"red","x":447,"y":603},{"id":"j","hue":"red","x":462,"y":605},{"id":"j","hue":"red","x":447,"y":577},{"id":"j","hue":"red","x":460,"y":567},
{"id":"k","hue":"plum","x":429,"y":567},{"id":"k","hue":"plum","x":478,"y":585},{"id":"k","hue":"plum","x":528,"y":569},{"id":"k","hue":"plum","x":543,"y":585},{"id":"k","hue":"plum","x":552,"y":607},{"id":"k","hue":"plum","x":510,"y":633},{"id":"k","hue":"plum","x":502,"y":677},
{"id":"l","hue":"plum","x":429,"y":567},{"id":"l","hue":"plum","x":413,"y":583},{"id":"l","hue":"plum","x":408,"y":598},{"id":"l","hue":"plum","x":383,"y":592},{"id":"l","hue":"plum","x":360,"y":613},{"id":"l","hue":"plum","x":348,"y":615},
{"id":"m","hue":"plum","x":377,"y":603},{"id":"m","hue":"plum","x":403,"y":603},
{"id":"n","hue":"royal","x":404,"y":603},{"id":"n","hue":"royal","x":387,"y":607},{"id":"n","hue":"royal","x":363,"y":585},{"id":"n","hue":"royal","x":420,"y":506},{"id":"n","hue":"royal","x":435,"y":509},{"id":"n","hue":"royal","x":416,"y":544},{"id":"n","hue":"royal","x":429,"y":567},
{"id":"o","hue":"blue","x":317,"y":555},{"id":"o","hue":"blue","x":327,"y":568},{"id":"o","hue":"blue","x":370,"y":568},{"id":"o","hue":"blue","x":397,"y":603},{"id":"o","hue":"blue","x":415,"y":597},
{"id":"p","hue":"brown","x":413,"y":427},{"id":"p","hue":"brown","x":437,"y":455},{"id":"p","hue":"brown","x":476,"y":455},{"id":"p","hue":"brown","x":485,"y":468},{"id":"p","hue":"brown","x":477,"y":508},{"id":"p","hue":"brown","x":438,"y":533},{"id":"p","hue":"brown","x":413,"y":543},{"id":"p","hue":"brown","x":389,"y":520},{"id":"p","hue":"brown","x":350,"y":515},
{"id":"q","hue":"royal","x":281,"y":873},{"id":"q","hue":"royal","x":275,"y":885},{"id":"q","hue":"royal","x":240,"y":881},{"id":"q","hue":"royal","x":249,"y":890},{"id":"q","hue":"royal","x":267,"y":885}
]},
"encoding":{"x":{"field":"x","type":"quantitative","scale":{"domain":[0,1378],"nice":false,"zero":false},"axis":null},"y":{"field":"y","type":"quantitative","scale":{"domain":[1344,0],"nice":false,"zero":false},"axis":null}},
"layer":[
{"data":{"name":"panes"},"mark":{"type":"area","opacity":1},"encoding":{"y2":{"field":"y2"},"color":{"field":"pane","type":"nominal","legend":null,"scale":{"domain":["left","right","floor"],"range":["#f8f8f8","#f1f1f1","#f4f4f4"]}},"detail":{"field":"pane"}}},
{"data":{"name":"seams"},"mark":{"type":"line","strokeWidth":2,"color":"#eeeeee"},"encoding":{"detail":{"field":"id"},"order":{"value":null}}},
{"data":{"name":"markers"},"mark":{"type":"circle","stroke":null},"encoding":{"size":{"value":470},"color":{"field":"side","type":"nominal","legend":null,"scale":{"domain":["red","blue"],"range":["#ff0000","#0000ff"]}},"opacity":{"field":"fade","type":"quantitative","legend":null,"scale":{"domain":[0,1],"range":[0,1]}}}},
{"data":{"name":"paths"},"mark":{"type":"line","strokeWidth":2.9,"strokeJoin":"round","interpolate":"linear"},"encoding":{"detail":{"field":"id"},"order":{"value":null},"color":{"field":"hue","type":"nominal","legend":null,"scale":{"domain":["blue","royal","indigo","purple","plum","rose","crimson","scarlet","red","flame","brown","olive","moss","lime"],"range":["#0a00f0","#2a00d8","#4300b8","#7d0088","#9c0070","#b0005c","#d40034","#e80018","#ff0000","#dc3200","#bc4a00","#8a7400","#6f8c00","#4fb000"]}}}},
{"data":{"name":"frame"},"mark":{"type":"line","strokeWidth":3.6,"strokeJoin":"miter","color":"#000000"},"encoding":{"detail":{"field":"id"},"order":{"value":null}}},
{"data":{"name":"words"},"mark":{"type":"text","font":"Liberation Sans","fontSize":75,"align":"left","baseline":"alphabetic","color":"#000000"},"encoding":{"text":{"field":"word"}}}
],
"resolve":{"scale":{"color":"independent","opacity":"independent"}}}
